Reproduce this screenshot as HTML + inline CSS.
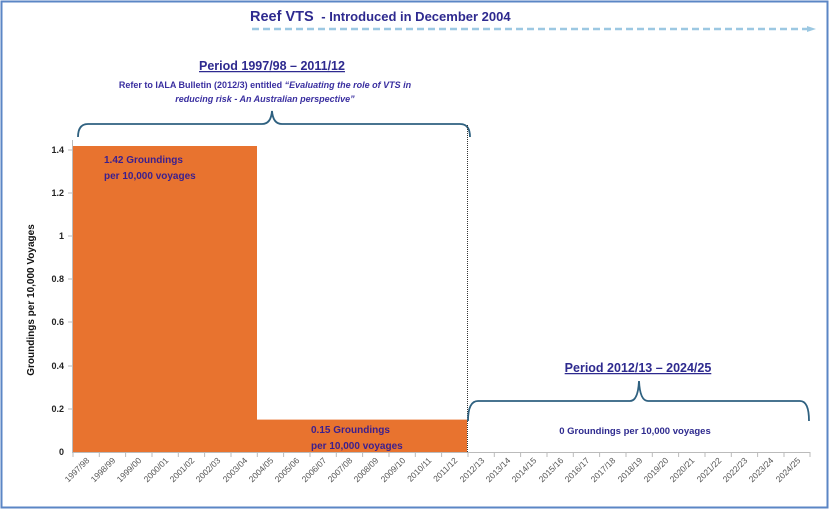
<!DOCTYPE html>
<html><head><meta charset="utf-8"><style>
html,body{margin:0;padding:0;background:#fff;}
svg{display:block;font-family:"Liberation Sans",sans-serif;}
</style></head><body>
<svg width="829" height="509" viewBox="0 0 829 509" xmlns="http://www.w3.org/2000/svg">
<rect x="1.5" y="1.5" width="826" height="506" fill="#fff" stroke="#5b86c5" stroke-width="2"/>
<text x="250" y="21" font-size="14.5" font-weight="bold" fill="#2e2a8f">Reef VTS <tspan font-size="13">&#160;- Introduced in December 2004</tspan></text>
<line x1="252" y1="29" x2="808" y2="29" stroke="#9cc8e2" stroke-width="2.5" stroke-dasharray="7,4"/>
<polygon points="807,26 816,29 807,32" fill="#9cc8e2"/>
<text x="272" y="70" font-size="12.5" font-weight="bold" fill="#2e2a8f" text-anchor="middle" text-decoration="underline">Period 1997/98 – 2011/12</text>
<text x="265" y="88" font-size="9" font-weight="bold" fill="#3a2fa0" text-anchor="middle">Refer to IALA Bulletin (2012/3) entitled <tspan font-style="italic">“Evaluating the role of VTS in</tspan></text>
<text x="265" y="102" font-size="9" font-weight="bold" font-style="italic" fill="#3a2fa0" text-anchor="middle">reducing risk - An Australian perspective”</text>
<path d="M78,137 Q78,124 88,124 L262,124 Q271,124 272,111 Q273,124 282,124 L460,124 Q470,124 470,137" fill="none" stroke="#2f6180" stroke-width="1.8"/>
<rect x="73" y="146" width="184" height="306" fill="#e8732f"/>
<rect x="257" y="419.6" width="210" height="32.4" fill="#e8732f"/>
<line x1="467.5" y1="125" x2="467.5" y2="452" stroke="#333" stroke-width="1" stroke-dasharray="1,1"/>
<line x1="72.5" y1="140" x2="72.5" y2="452" stroke="#bbb" stroke-width="1"/>
<line x1="72" y1="452.5" x2="810" y2="452.5" stroke="#bbb" stroke-width="1"/>
<g font-size="9" font-weight="bold" fill="#222" text-anchor="end">
<text x="64" y="455">0</text><text x="64" y="412">0.2</text><text x="64" y="369">0.4</text><text x="64" y="325">0.6</text><text x="64" y="282">0.8</text><text x="64" y="239">1</text><text x="64" y="196">1.2</text><text x="64" y="153">1.4</text>
</g>
<g stroke="#bbb"><line x1="68" y1="150" x2="72" y2="150"/><line x1="68" y1="193" x2="72" y2="193"/><line x1="68" y1="236" x2="72" y2="236"/><line x1="68" y1="279" x2="72" y2="279"/><line x1="68" y1="322" x2="72" y2="322"/><line x1="68" y1="366" x2="72" y2="366"/><line x1="68" y1="409" x2="72" y2="409"/></g>
<text transform="translate(34,300) rotate(-90)" font-size="10" font-weight="bold" fill="#111" text-anchor="middle">Groundings per 10,000 Voyages</text>
<text x="104" y="163" font-size="10" font-weight="bold" fill="#3a1f8f">1.42 Groundings</text>
<text x="104" y="179" font-size="10" font-weight="bold" fill="#3a1f8f">per 10,000 voyages</text>
<text x="311" y="433" font-size="10" font-weight="bold" fill="#3a1f8f">0.15 Groundings</text>
<text x="311" y="449" font-size="10" font-weight="bold" fill="#3a1f8f">per 10,000 voyages</text>
<text x="638" y="372" font-size="12.5" font-weight="bold" fill="#2e2a8f" text-anchor="middle" text-decoration="underline">Period 2012/13 – 2024/25</text>
<path d="M468,421 Q468,401 478,401 L630,401 Q638,401 639,381 Q640,401 648,401 L800,401 Q809,401 809,421" fill="none" stroke="#2f6180" stroke-width="1.8"/>
<text x="635" y="434" font-size="9.5" font-weight="bold" fill="#2e2a8f" text-anchor="middle">0 Groundings per 10,000 voyages</text>
<g stroke="#bbb">
<line x1="73" y1="452" x2="73" y2="457"/><line x1="99.3" y1="452" x2="99.3" y2="457"/><line x1="125.6" y1="452" x2="125.6" y2="457"/><line x1="152" y1="452" x2="152" y2="457"/><line x1="178.3" y1="452" x2="178.3" y2="457"/><line x1="204.6" y1="452" x2="204.6" y2="457"/><line x1="231" y1="452" x2="231" y2="457"/><line x1="257.3" y1="452" x2="257.3" y2="457"/><line x1="283.6" y1="452" x2="283.6" y2="457"/><line x1="310" y1="452" x2="310" y2="457"/><line x1="336.3" y1="452" x2="336.3" y2="457"/><line x1="362.6" y1="452" x2="362.6" y2="457"/><line x1="389" y1="452" x2="389" y2="457"/><line x1="415.3" y1="452" x2="415.3" y2="457"/><line x1="441.6" y1="452" x2="441.6" y2="457"/><line x1="468" y1="452" x2="468" y2="457"/><line x1="494.3" y1="452" x2="494.3" y2="457"/><line x1="520.6" y1="452" x2="520.6" y2="457"/><line x1="547" y1="452" x2="547" y2="457"/><line x1="573.3" y1="452" x2="573.3" y2="457"/><line x1="599.6" y1="452" x2="599.6" y2="457"/><line x1="626" y1="452" x2="626" y2="457"/><line x1="652.3" y1="452" x2="652.3" y2="457"/><line x1="678.6" y1="452" x2="678.6" y2="457"/><line x1="705" y1="452" x2="705" y2="457"/><line x1="731.3" y1="452" x2="731.3" y2="457"/><line x1="757.6" y1="452" x2="757.6" y2="457"/><line x1="784" y1="452" x2="784" y2="457"/><line x1="810" y1="452" x2="810" y2="457"/>
</g>
<g font-size="8.5" fill="#555" text-anchor="end">
<text transform="translate(90,461) rotate(-45)">1997/98</text>
<text transform="translate(116,461) rotate(-45)">1998/99</text>
<text transform="translate(142,461) rotate(-45)">1999/00</text>
<text transform="translate(169,461) rotate(-45)">2000/01</text>
<text transform="translate(195,461) rotate(-45)">2001/02</text>
<text transform="translate(221,461) rotate(-45)">2002/03</text>
<text transform="translate(248,461) rotate(-45)">2003/04</text>
<text transform="translate(274,461) rotate(-45)">2004/05</text>
<text transform="translate(300,461) rotate(-45)">2005/06</text>
<text transform="translate(327,461) rotate(-45)">2006/07</text>
<text transform="translate(353,461) rotate(-45)">2007/08</text>
<text transform="translate(379,461) rotate(-45)">2008/09</text>
<text transform="translate(406,461) rotate(-45)">2009/10</text>
<text transform="translate(432,461) rotate(-45)">2010/11</text>
<text transform="translate(458,461) rotate(-45)">2011/12</text>
<text transform="translate(485,461) rotate(-45)">2012/13</text>
<text transform="translate(511,461) rotate(-45)">2013/14</text>
<text transform="translate(537,461) rotate(-45)">2014/15</text>
<text transform="translate(564,461) rotate(-45)">2015/16</text>
<text transform="translate(590,461) rotate(-45)">2016/17</text>
<text transform="translate(616,461) rotate(-45)">2017/18</text>
<text transform="translate(643,461) rotate(-45)">2018/19</text>
<text transform="translate(669,461) rotate(-45)">2019/20</text>
<text transform="translate(695,461) rotate(-45)">2020/21</text>
<text transform="translate(722,461) rotate(-45)">2021/22</text>
<text transform="translate(748,461) rotate(-45)">2022/23</text>
<text transform="translate(774,461) rotate(-45)">2023/24</text>
<text transform="translate(801,461) rotate(-45)">2024/25</text>
</g>
</svg>
</body></html>
